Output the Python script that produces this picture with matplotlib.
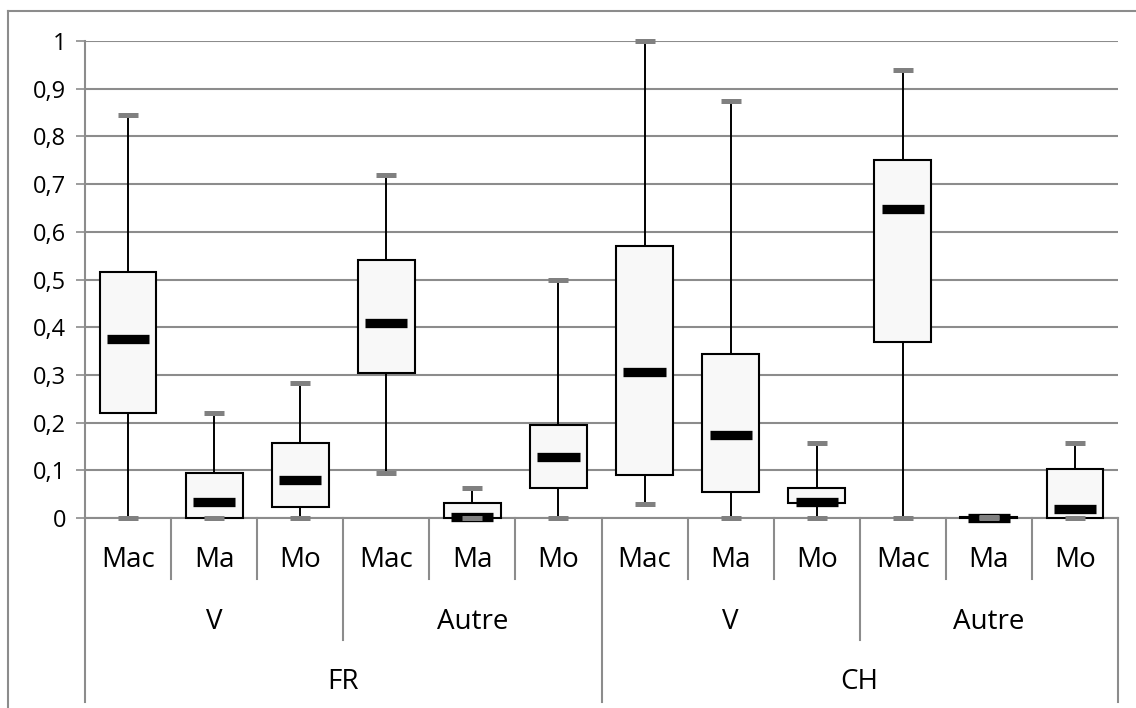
import numpy as np
import matplotlib
matplotlib.use("Agg")
import matplotlib.pyplot as plt
from matplotlib.lines import Line2D
import matplotlib.transforms as mtransforms

plt.rcParams['font.family'] = ['Open Sans', 'DejaVu Sans']

# données
cats = ['Mac', 'Ma', 'Mo'] * 4
groups = ['V', 'Autre', 'V', 'Autre']
countries = ['FR', 'CH']

mins = [0.0, 0.0, 0.0, 0.095, 0.0, 0.0, 0.03, 0.0, 0.0, 0.0, 0.0, 0.0]
q1 = [0.22, 0.0, 0.023, 0.305, 0.0, 0.063, 0.09, 0.055, 0.031, 0.37, 0.0, 0.0]
med = [0.375, 0.033, 0.08, 0.408, 0.0015, 0.127, 0.307, 0.173, 0.034, 0.647, 0.0, 0.018]
q3 = [0.515, 0.095, 0.157, 0.54, 0.032, 0.195, 0.57, 0.343, 0.063, 0.75, 0.002, 0.102]
maxs = [0.845, 0.22, 0.282, 0.72, 0.063, 0.5, 1.0, 0.875, 0.157, 0.94, 0.003, 0.157]
yticks = np.arange(0, 1.01, 0.1)

W, H = 1136, 708
fig = plt.figure(figsize=(W / 100, H / 100), dpi=100)
ax = fig.add_axes([85 / W, 1 - 518 / H, (1118 - 85) / W, 477 / H])

x = np.arange(len(cats))
grid_c = '#8c8c8c'

# boîtes
bars = ax.bar(x, np.array(q3) - np.array(q1), bottom=q1, width=0.66, color='#f8f8f8',
              edgecolor='black', linewidth=1.5, zorder=3)
for b in bars:
    b.set_clip_on(False)
# moustaches
ax.vlines(x, mins, q1, color='black', linewidth=1.4, zorder=2, clip_on=False)
ax.vlines(x, q3, maxs, color='black', linewidth=1.4, zorder=2, clip_on=False)
# médianes
ax.hlines(med, x - 0.245, x + 0.245, color='black', linewidth=6.7, zorder=4, clip_on=False)
# extrémités
ax.hlines(mins, x - 0.116, x + 0.116, color='#808080', linewidth=3.6, zorder=5, clip_on=False)
ax.hlines(maxs, x - 0.116, x + 0.116, color='#808080', linewidth=3.6, zorder=5, clip_on=False)

ax.set_xlim(-0.5, len(cats) - 0.5)
ax.set_ylim(0, 1)
ax.set_yticks(yticks)
ax.set_yticklabels([('%g' % round(v, 1)).replace('.', ',') for v in yticks], fontsize=17)
ax.yaxis.grid(True, color=grid_c, linewidth=1.5, zorder=0)
ax.set_axisbelow(True)
ax.tick_params(axis='y', length=6.5, width=1.2, color=grid_c, pad=7)
ax.set_xticks([])
for s in ['top', 'right']:
    ax.spines[s].set_visible(False)
ax.spines['left'].set_color(grid_c)
ax.spines['left'].set_linewidth(1.5)
ax.spines['bottom'].set_color(grid_c)
ax.spines['bottom'].set_linewidth(1.5)

# axe horizontal à plusieurs niveaux
tr = mtransforms.blended_transform_factory(ax.transData, ax.transAxes)
for k in range(len(cats) + 1):
    if k % 6 == 0:
        depth = 184
    elif k % 3 == 0:
        depth = 122
    else:
        depth = 61
    ax.add_line(Line2D([k - 0.5, k - 0.5], [0, -depth / 477], transform=tr,
                       color=grid_c, linewidth=1.5, clip_on=False))

for i, c in enumerate(cats):
    ax.text(i, -42 / 477, c, transform=tr, ha='center', va='center', fontsize=20)
for j, g in enumerate(groups):
    ax.text(j * 3 + 1, -104 / 477, g, transform=tr, ha='center', va='center', fontsize=20)
for j, c in enumerate(countries):
    ax.text(j * 6 + 2.5, -164 / 477, c, transform=tr, ha='center', va='center', fontsize=20)

# cadre du graphique
fig.add_artist(Line2D([8 / W, 8 / W], [0, 1 - 11 / H], color=grid_c, linewidth=1.5))
fig.add_artist(Line2D([8 / W, 1], [1 - 11 / H, 1 - 11 / H], color=grid_c, linewidth=1.5))

fig.savefig('out.png', dpi=100)
